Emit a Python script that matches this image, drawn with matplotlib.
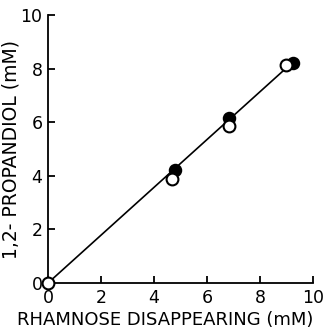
import matplotlib
matplotlib.use("Agg")
import matplotlib.pyplot as plt

filled_x = [4.79, 6.84, 9.25]
filled_y = [4.22, 6.17, 8.22]
open_x = [0.0, 4.67, 6.83, 8.97]
open_y = [0.0, 3.88, 5.86, 8.13]
line_x = [0.0, 9.1]
line_y = [0.0, 8.12]
ticks = [0, 2, 4, 6, 8, 10]

fig = plt.figure(figsize=(3.23, 3.30), dpi=100)
ax = fig.add_axes([0.1486, 0.1424, 0.8204, 0.812])
ax.plot(line_x, line_y, color="black", lw=1.2, zorder=1)
ax.plot(filled_x, filled_y, "o", ms=8.5, mfc="black", mec="black", mew=1.2, clip_on=False, zorder=2)
ax.plot(open_x, open_y, "o", ms=8.5, mfc="white", mec="black", mew=1.5, clip_on=False, zorder=3)
ax.set_xlim(0, 10)
ax.set_ylim(0, 10)
ax.set_xticks(ticks)
ax.set_yticks(ticks)
ax.spines["top"].set_visible(False)
ax.spines["right"].set_visible(False)
for s in ["left", "bottom"]:
    ax.spines[s].set_linewidth(1.3)
ax.tick_params(direction="in", length=5, width=1.3, labelsize=12.5, pad=4)
fig.text(165 / 323, 1 - 320 / 330, "RHAMNOSE DISAPPEARING (mM)", fontsize=13,
         ha="center", va="center")
ax.set_ylabel("1,2- PROPANDIOL (mM)", fontsize=13.5, labelpad=0)
fig.savefig("out.png", dpi=100)
